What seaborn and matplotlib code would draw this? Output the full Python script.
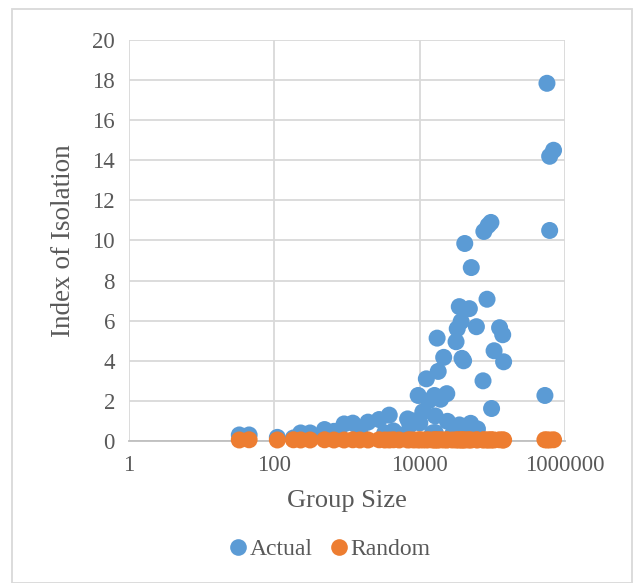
"""
Index of isolation vs group size (actual vs random), log x axis.
Output: out.png
"""

import pandas as pd
import matplotlib.pyplot as plt
import seaborn as sns
from matplotlib.patches import Rectangle
from matplotlib.lines import Line2D

# group sizes (log scale)
actual_size = [33, 45, 110, 183, 230, 310, 490, 660, 910, 1200, 1500, 1940, 2760, 3300,
               3800, 4350, 5200, 6800, 7300, 8300, 9500, 10000, 11000, 12300, 13200,
               15000, 15900, 16300, 16300, 17300, 17900, 19300, 21300, 23500, 24000,
               28000, 31500, 32700, 34900, 35000, 37000, 38000, 40000, 41500, 46000,
               48000, 50000, 51000, 60000, 62000, 74000, 76000, 84000, 87000, 95000,
               97000, 105000, 125000, 138000, 142000, 525000, 560000, 610000, 610000,
               690000]
actual_iso = [0.30, 0.30, 0.18, 0.15, 0.40, 0.40, 0.57, 0.48, 0.85, 0.89, 0.50, 0.94,
              1.07, 0.40, 1.29, 0.50, 0.30, 1.10, 0.80, 1.00, 2.27, 0.90, 1.45, 3.10,
              2.00, 0.40, 2.27, 1.25, 0.42, 5.13, 3.47, 2.08, 4.17, 2.36, 0.98,
              0.30, 4.95, 5.60, 6.70, 0.80, 5.96, 4.12, 4.00, 9.85, 0.50,
              6.60, 0.88, 8.65, 5.70, 0.60, 3.00, 10.45, 7.07, 10.75, 10.90,
              1.62, 4.50, 5.65, 5.30, 3.95, 2.27, 17.84, 10.50, 14.20, 14.50]

random_size = [33, 45, 110, 183, 230, 310, 490, 660, 910, 1200, 1500, 1940, 2760, 3300,
               3800, 4350, 5200, 6800, 7300, 8300, 9500, 10000, 11000, 12300, 13200,
               15000, 15900, 16300, 17300, 17900, 19300, 21300, 23500, 24000,
               28000, 31500, 32700, 34900, 37000, 38000, 40000, 41500, 46000,
               48000, 51000, 60000, 62000, 74000, 76000, 84000, 87000, 95000,
               97000, 105000, 125000, 138000, 142000, 525000, 560000, 610000, 690000]
random_iso = [0.05, 0.06, 0.05, 0.06, 0.05, 0.05, 0.06, 0.05, 0.05, 0.06, 0.05, 0.05,
              0.06, 0.05, 0.05, 0.06, 0.05, 0.05, 0.06, 0.05, 0.05, 0.06, 0.05, 0.05,
              0.06, 0.05, 0.05, 0.06, 0.05, 0.05, 0.06, 0.05, 0.05, 0.06,
              0.05, 0.05, 0.06, 0.05, 0.05, 0.06, 0.05, 0.05, 0.06,
              0.05, 0.05, 0.06, 0.05, 0.05, 0.06, 0.05, 0.05, 0.06,
              0.05, 0.05, 0.06, 0.05, 0.05, 0.06, 0.05, 0.05, 0.06]

x_ticks = [1, 100, 10000, 1000000]
x_tick_labels = ["1", "100", "10000", "1000000"]
y_ticks = [0, 2, 4, 6, 8, 10, 12, 14, 16, 18, 20]

BLUE = "#5B9BD5"
ORANGE = "#ED7D31"
TEXT = "#595959"
GRID = "#d9d9d9"

df = pd.concat([
    pd.DataFrame({"size": actual_size, "iso": actual_iso, "series": "Actual"}),
    pd.DataFrame({"size": random_size, "iso": random_iso, "series": "Random"}),
], ignore_index=True)

sns.set_theme(style="white")
plt.rcParams["font.family"] = ["Liberation Serif", "DejaVu Serif"]

fig = plt.figure(figsize=(6.38, 5.83), dpi=100)
ax = fig.add_axes([0.202, 0.2436, 0.684, 0.6878])

sns.scatterplot(data=df, x="size", y="iso", hue="series",
                palette={"Actual": BLUE, "Random": ORANGE},
                s=150, linewidth=0, alpha=1, ax=ax, legend=False, zorder=3,
                clip_on=False)

ax.set_xscale("log")
ax.set_xlim(1, 1000000)
ax.set_ylim(0, 20)
ax.set_xticks(x_ticks)
ax.set_xticklabels(x_tick_labels)
ax.minorticks_off()
ax.set_yticks(y_ticks)
ax.grid(True, color=GRID, linewidth=1.3, zorder=0)
ax.set_axisbelow(True)
for side in ["top", "right", "left"]:
    ax.spines[side].set_visible(False)
ax.spines["bottom"].set_color("#bfbfbf")
ax.spines["bottom"].set_linewidth(1.3)
ax.tick_params(axis="both", length=0, labelsize=16.5, colors=TEXT, pad=10)

ax.set_xlabel("Group Size", fontsize=19, color=TEXT, labelpad=10)
ax.set_ylabel("Index of Isolation", fontsize=19.5, color=TEXT, labelpad=12)

handles = [Line2D([0], [0], marker="o", linestyle="", markersize=12,
                  markerfacecolor=c, markeredgewidth=0) for c in (BLUE, ORANGE)]
leg = fig.legend(handles, ["Actual", "Random"], loc="center", bbox_to_anchor=(0.515, 0.058),
                 ncol=2, frameon=False, fontsize=17, handletextpad=0.0,
                 columnspacing=0.6, handlelength=1.0)
for t in leg.get_texts():
    t.set_color(TEXT)

fig.patches.append(Rectangle((0.019, 0.0), 0.972, 0.985, transform=fig.transFigure,
                             fill=False, edgecolor=GRID, linewidth=1.3))

fig.savefig("out.png", dpi=100)
